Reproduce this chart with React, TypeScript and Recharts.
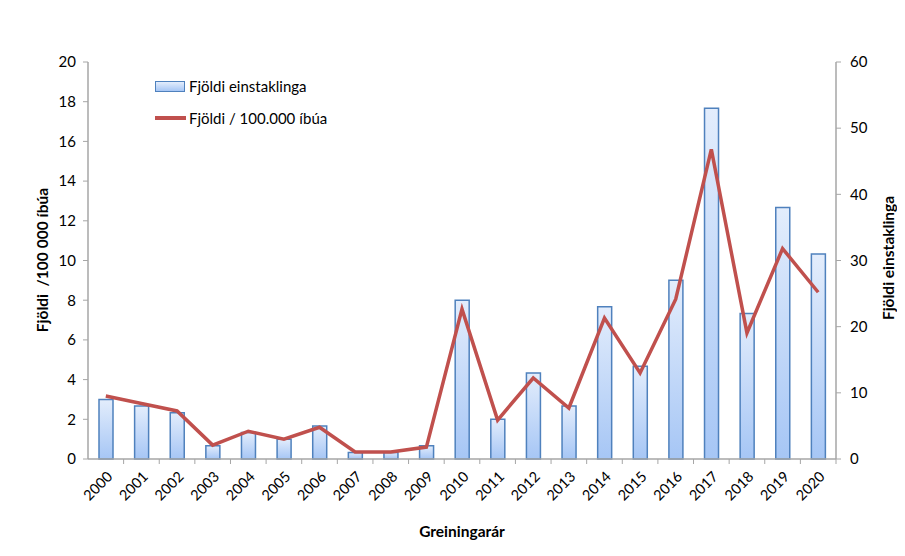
import { ComposedChart, Bar, Line, XAxis, YAxis } from "recharts";

const years = ["2000", "2001", "2002", "2003", "2004", "2005", "2006", "2007", "2008", "2009", "2010",
  "2011", "2012", "2013", "2014", "2015", "2016", "2017", "2018", "2019", "2020"];
// Fjöldi einstaklinga (right axis)
const counts = [9, 8, 7, 2, 4, 3, 5, 1, 1, 2, 24, 6, 13, 8, 23, 14, 27, 53, 22, 38, 31];
// Fjöldi / 100.000 íbúa (left axis)
const rates = [3.17, 2.8, 2.42, 0.7, 1.4, 1.0, 1.6, 0.35, 0.35, 0.6, 7.55, 1.96, 4.08, 2.57, 7.1, 4.33, 8.05, 15.6, 6.35, 10.6, 8.4];
const leftTicks = [0, 2, 4, 6, 8, 10, 12, 14, 16, 18, 20];
const rightTicks = [0, 10, 20, 30, 40, 50, 60];

const data = years.map((y, i) => ({ year: y, count: counts[i], rate: rates[i] }));

const FONT = "Lato, 'Open Sans', sans-serif";
const AXIS = "#a6a6a6";
const BAND = 748 / years.length;

const YearTick = (props: any) => {
  const { x, y, payload } = props;
  return (
    <g>
      <line x1={x + BAND / 2} y1={y - 8} x2={x + BAND / 2} y2={y - 3} stroke={AXIS} strokeWidth={1} />
      <text
        x={x + 5}
        y={y + 8}
        transform={`rotate(-45, ${x + 5}, ${y + 8})`}
        textAnchor="end"
        dominantBaseline="middle"
        fontSize={14.5}
        fontFamily={FONT}
        fill="#000"
      >
        {payload.value}
      </text>
    </g>
  );
};

const App = () => {
  return (
    <div style={{ position: "relative", width: 905, height: 556, margin: -8, background: "#fff", fontFamily: FONT }}>
      <ComposedChart
        width={905}
        height={556}
        data={data}
        margin={{ top: 62, right: 0, bottom: 0, left: 0 }}
        barCategoryGap={0}
      >
        <defs>
          <linearGradient id="barFill" x1="0" y1="0" x2="0" y2="1">
            <stop offset="0%" stopColor="#e3edfc" />
            <stop offset="100%" stopColor="#a6c6f5" />
          </linearGradient>
        </defs>
        <XAxis
          dataKey="year"
          height={97}
          axisLine={{ stroke: AXIS, strokeWidth: 1.5 }}
          tickLine={false}
          tick={<YearTick />}
          interval={0}
        />
        <YAxis
          yAxisId="left"
          orientation="left"
          width={88}
          domain={[0, 20]}
          ticks={leftTicks}
          axisLine={{ stroke: AXIS, strokeWidth: 1.5 }}
          tickLine={{ stroke: AXIS }}
          tickSize={5}
          tick={{ fontSize: 15, fill: "#000", fontFamily: FONT }}
          tickMargin={7}
        />
        <YAxis
          yAxisId="right"
          orientation="right"
          width={69}
          domain={[0, 60]}
          ticks={rightTicks}
          axisLine={{ stroke: AXIS, strokeWidth: 1.5 }}
          tickLine={{ stroke: AXIS }}
          tickSize={5}
          tick={{ fontSize: 15, fill: "#000", fontFamily: FONT }}
          tickMargin={9}
        />
        <Bar
          yAxisId="right"
          dataKey="count"
          barSize={14}
          fill="url(#barFill)"
          stroke="#4f81bd"
          strokeWidth={1.5}
          isAnimationActive={false}
        />
        <Line
          yAxisId="left"
          dataKey="rate"
          stroke="#c0504d"
          strokeWidth={3.5}
          dot={false}
          type="linear"
          isAnimationActive={false}
        />
      </ComposedChart>

      {/* frame */}
      <div style={{ position: "absolute", left: 5, top: 3, width: 900, height: 553, borderLeft: "1px solid #c8c8c8", borderTop: "1px solid #c8c8c8", pointerEvents: "none" }} />

      {/* legend */}
      <div style={{ position: "absolute", left: 155, top: 76, fontSize: 15, color: "#000" }}>
        <div style={{ display: "flex", alignItems: "center", height: 20 }}>
          <div style={{ width: 28, height: 9, border: "1.5px solid #4f81bd", background: "linear-gradient(#e3edfc, #a6c6f5)", marginRight: 4 }} />
          <span>Fjöldi einstaklinga</span>
        </div>
        <div style={{ display: "flex", alignItems: "center", height: 20, marginTop: 12 }}>
          <div style={{ width: 31, height: 3.5, background: "#c0504d", marginRight: 3 }} />
          <span>Fjöldi / 100.000 íbúa</span>
        </div>
      </div>

      {/* axis titles */}
      <div style={{ position: "absolute", left: 42, top: 260, transform: "translate(-50%, -50%) rotate(-90deg)", whiteSpace: "nowrap", fontSize: 15.5, fontWeight: 700 }}>
        Fjöldi&nbsp; /100&#8239;000 íbúa
      </div>
      <div style={{ position: "absolute", left: 888, top: 258, transform: "translate(-50%, -50%) rotate(-90deg)", whiteSpace: "nowrap", fontSize: 15.5, fontWeight: 700 }}>
        Fjöldi einstaklinga
      </div>
      <div style={{ position: "absolute", left: 462, top: 531, transform: "translate(-50%, -50%)", whiteSpace: "nowrap", fontSize: 15.5, fontWeight: 700 }}>
        Greiningarár
      </div>
    </div>
  );
};

export default App;
